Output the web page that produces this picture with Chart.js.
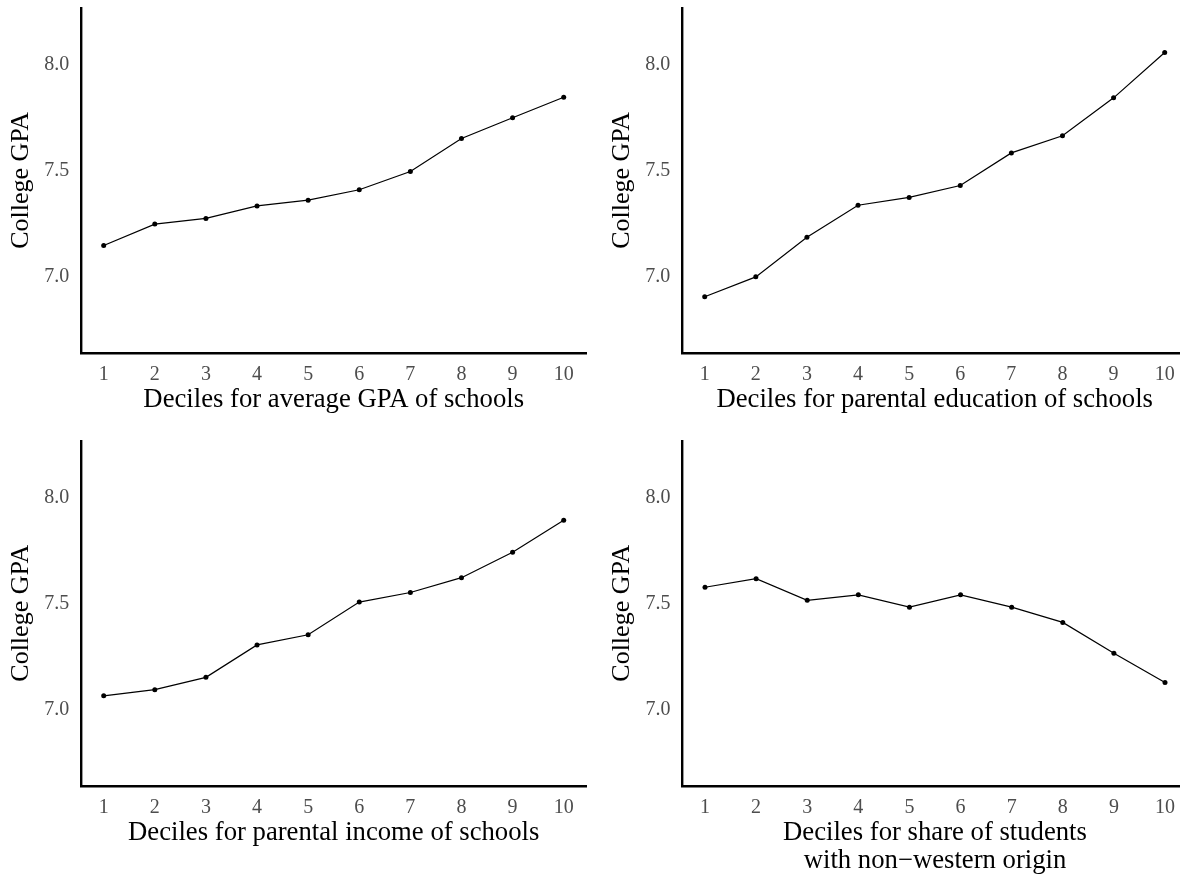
<!DOCTYPE html>
<html>
<head>
<meta charset="utf-8">
<script src="https://cdn.jsdelivr.net/npm/chart.js@4.4.0/dist/chart.umd.min.js"></script>
<style>
  html, body { margin: 0; padding: 0; background: #ffffff; overflow: hidden; }
  #wrap { position: relative; width: 1180px; height: 878px; overflow: hidden; background: #fff; }
  canvas { position: absolute; display: block; }
</style>
</head>
<body>
<div id="wrap">
  <canvas id="c1"></canvas>
  <canvas id="c2"></canvas>
  <canvas id="c3"></canvas>
  <canvas id="c4"></canvas>
</div>
<script>
// ---- data ----
const deciles = [1, 2, 3, 4, 5, 6, 7, 8, 9, 10];
const xTickLabels = ["1", "2", "3", "4", "5", "6", "7", "8", "9", "10"];
const yTickValues = [7.0, 7.5, 8.0];
const yTickLabels = ["7.0", "7.5", "8.0"];
const yAxisTitle = "College GPA";

const gpaByAvgGpa      = [7.146, 7.247, 7.274, 7.333, 7.360, 7.409, 7.495, 7.651, 7.749, 7.846];
const gpaByParentEdu   = [6.904, 6.998, 7.185, 7.336, 7.373, 7.429, 7.583, 7.664, 7.843, 8.057];
const gpaByParentInc   = [7.064, 7.093, 7.151, 7.304, 7.352, 7.506, 7.551, 7.621, 7.741, 7.892];
const gpaByNonWestern  = [7.576, 7.616, 7.514, 7.540, 7.482, 7.540, 7.482, 7.410, 7.265, 7.127];

const xTitle1 = "Deciles for average GPA of schools";
const xTitle2 = "Deciles for parental education of schools";
const xTitle3 = "Deciles for parental income of schools";
const xTitle4 = ["Deciles for share of students", "with non\u2212western origin"];

// ---- styling / layout ----
const FONT = "'Liberation Serif', 'Times New Roman', Times, serif";
const X_MIN = 0.55, X_MAX = 10.45;
const Y_MIN = 6.64, Y_MAX = 8.267;
const YTITLE_SIZE = 26, XTITLE_SIZE = 26.7, TICK_SIZE = 20;
const XTITLE_LINE = 28.34, YTITLE_LINE = 28.34;

function makePanel(id, values, xTitle, cv, area) {
  const el = document.getElementById(id);
  el.width = cv.w; el.height = cv.h;
  el.style.left = cv.left + "px"; el.style.top = cv.top + "px";
  el.style.width = cv.w + "px"; el.style.height = cv.h + "px";
  const nLines = Array.isArray(xTitle) ? xTitle.length : 1;
  const xAxisH = 46.8 + XTITLE_LINE / 2 + XTITLE_LINE * (nLines - 1);
  const yTitlePad = area.l - 60 - YTITLE_LINE / 2;
  new Chart(el, {
    type: "line",
    data: {
      datasets: [{
        data: deciles.map((d, i) => ({ x: d, y: values[i] })),
        borderColor: "#000",
        backgroundColor: "#000",
        borderWidth: 1.2,
        pointRadius: 2.5,
        pointBorderWidth: 0,
        pointBackgroundColor: "#000",
        tension: 0,
        fill: false
      }]
    },
    options: {
      responsive: false,
      animation: false,
      devicePixelRatio: 1,
      layout: {
        autoPadding: false,
        padding: { left: 0, top: area.t, right: cv.w - area.r, bottom: cv.h - area.b - xAxisH }
      },
      plugins: { legend: { display: false }, tooltip: { enabled: false } },
      scales: {
        x: {
          type: "linear", position: "bottom", min: X_MIN, max: X_MAX,
          afterBuildTicks: s => { s.ticks = deciles.map(v => ({ value: v })); },
          afterFit: s => { s.height = xAxisH; s.paddingLeft = 0; s.paddingRight = 0; },
          ticks: {
            callback: (v, i) => xTickLabels[i],
            color: "#4d4d4d", font: { family: FONT, size: TICK_SIZE },
            padding: 9.8, maxRotation: 0, autoSkip: false
          },
          grid: { display: false, drawTicks: false },
          border: { display: true, color: "#000", width: 2.4 },
          title: {
            display: true, text: xTitle, color: "#000",
            font: { family: FONT, size: XTITLE_SIZE, lineHeight: XTITLE_LINE / XTITLE_SIZE },
            padding: { top: 0, bottom: 0 }
          }
        },
        y: {
          type: "linear", position: "left", min: Y_MIN, max: Y_MAX,
          afterBuildTicks: s => { s.ticks = yTickValues.map(v => ({ value: v })); },
          afterFit: s => { s.width = area.l; s.paddingTop = 0; s.paddingBottom = 0; },
          ticks: {
            callback: (v, i) => yTickLabels[i],
            color: "#4d4d4d", font: { family: FONT, size: TICK_SIZE },
            padding: 11.5
          },
          grid: { display: false, drawTicks: false },
          border: { display: true, color: "#000", width: 2.4 },
          title: {
            display: true, text: yAxisTitle, color: "#000",
            font: { family: FONT, size: YTITLE_SIZE, lineHeight: YTITLE_LINE / YTITLE_SIZE },
            padding: { top: yTitlePad, bottom: 0 }
          }
        }
      }
    }
  });
}

makePanel("c1", gpaByAvgGpa, xTitle1,
  { left: 0, top: 0, w: 590, h: 420 }, { l: 80.7, t: 8, r: 586.7, b: 352.7 });
makePanel("c2", gpaByParentEdu, xTitle2,
  { left: 590, top: 0, w: 600, h: 420 }, { l: 91.7, t: 8, r: 597.7, b: 352.7 });
makePanel("c3", gpaByParentInc, xTitle3,
  { left: 0, top: 430, w: 590, h: 448 }, { l: 80.7, t: 10.7, r: 586.7, b: 355.7 });
makePanel("c4", gpaByNonWestern, xTitle4,
  { left: 590, top: 430, w: 600, h: 448 }, { l: 92, t: 10.7, r: 598, b: 355.7 });
</script>
</body>
</html>
